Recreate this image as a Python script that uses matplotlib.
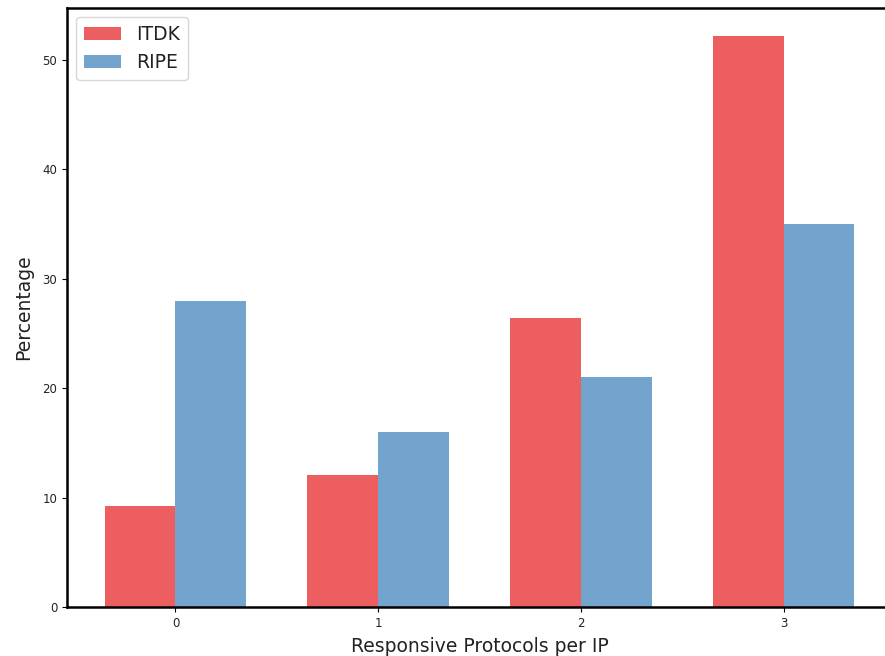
import matplotlib
matplotlib.use("Agg")
import matplotlib.pyplot as plt
import numpy as np

categories = ["0", "1", "2", "3"]
itdk = [9.2, 12.1, 26.4, 52.2]
ripe = [27.95, 16.0, 21.0, 35.0]

fig = plt.figure(figsize=(8.85, 6.56), dpi=100)
ax = fig.add_axes([67/885, 49/656, (892-67)/885, (648-49)/656])

x = np.arange(len(categories))
w = 0.35
ax.bar(x - w/2, itdk, w, color="#E41A1C", alpha=0.7, label="ITDK")
ax.bar(x + w/2, ripe, w, color="#377EB8", alpha=0.7, label="RIPE")

ax.set_xticks(x)
ax.set_xticklabels(categories)
ax.set_ylim(0, 54.75)
ax.tick_params(labelsize=8.5, colors="#222222")
ax.tick_params(color="black")
ax.set_xlabel("Responsive Protocols per IP", fontsize=13.5, labelpad=5, color="#222222")
ax.set_ylabel("Percentage", fontsize=13.5, labelpad=7, color="#222222")
for s in ax.spines.values():
    s.set_linewidth(1.8)
leg = ax.legend(loc="upper left", fontsize=13.5)
for t in leg.get_texts():
    t.set_color("#222222")

fig.savefig("out.png", dpi=100)
